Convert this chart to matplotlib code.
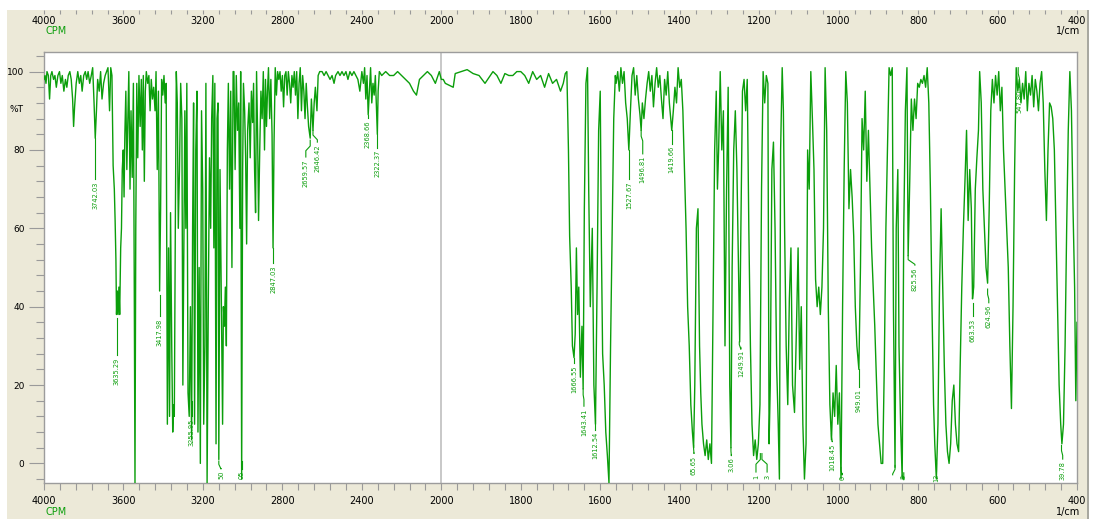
import numpy as np
import matplotlib
matplotlib.use("Agg")
import matplotlib.pyplot as plt
from matplotlib.patches import Rectangle
from matplotlib.ticker import FixedLocator, NullFormatter

GREEN = '#0b9e0b'
BEIGE = '#ece9d8'
TICK = '#9a9a9a'

# spectrum, (1/cm, %T), high to low wavenumber
seg_4000_3660 = [
	(4000, 98), (3995, 99), (3990, 97), (3985, 100), (3978, 99), (3972, 93), (3966, 99), (3960, 100),
	(3952, 98), (3945, 99), (3938, 96), (3930, 99), (3922, 100), (3915, 97), (3908, 99), (3900, 95),
	(3892, 98), (3885, 96), (3878, 99), (3870, 100), (3863, 98), (3856, 93), (3851, 86), (3846, 91),
	(3838, 97), (3830, 100), (3822, 97), (3815, 99), (3808, 95), (3800, 99), (3792, 100), (3785, 98),
	(3778, 100), (3770, 97), (3762, 99), (3755, 101), (3748, 92), (3742, 83), (3736, 90), (3730, 98),
	(3722, 95), (3715, 100), (3708, 93), (3700, 97), (3692, 99), (3685, 100), (3678, 101), (3670, 90),
	(3664, 101),
]
seg_3660_3045 = [
	(3658, 99), (3652, 76), (3646, 70), (3642, 62), (3638, 52), (3635, 38), (3631, 44), (3627, 38),
	(3623, 45), (3619, 38), (3614, 55), (3610, 60), (3606, 75), (3601, 80), (3597, 68), (3593, 84),
	(3588, 95), (3583, 75), (3578, 88), (3573, 100), (3567, 70), (3562, 90), (3556, 73), (3550, 97),
	(3546, 50), (3542, -5), (3538, 60), (3533, 97), (3528, 78), (3522, 99), (3516, 86), (3510, 98),
	(3505, 80), (3500, 99), (3495, 72), (3490, 95), (3485, 100), (3478, 97), (3472, 99), (3466, 90),
	(3460, 98), (3454, 93), (3448, 96), (3441, 90), (3436, 100), (3430, 75), (3424, 95), (3418, 44),
	(3413, 65), (3408, 98), (3402, 94), (3396, 99), (3390, 92), (3385, 97), (3379, 10), (3373, 55),
	(3368, 12), (3363, 64), (3357, 30), (3352, 8), (3348, 15), (3344, 12), (3339, 60), (3334, 100),
	(3329, 92), (3324, 60), (3318, 75), (3312, 97), (3306, 88), (3301, 20), (3296, 55), (3291, 90),
	(3286, 60), (3281, 97), (3275, 18), (3269, 12), (3263, 40), (3257, 6), (3252, 60), (3247, 92),
	(3242, 10), (3236, 80), (3230, 95), (3225, 8), (3219, 50), (3213, 0), (3207, 90), (3201, 70),
	(3196, 10), (3190, 30), (3185, 97), (3179, -5), (3173, 40), (3167, 78), (3161, 60), (3156, 88),
	(3150, 99), (3145, 55), (3140, 97), (3134, 5), (3129, 88), (3124, 92), (3120, 1), (3114, 75),
	(3107, 40), (3101, 10), (3097, 40), (3092, 35), (3087, 45), (3082, 30), (3077, 80), (3072, 97),
	(3066, 70), (3060, 95), (3054, 50), (3048, 100),
]
seg_3045_2300 = [
	(3044, 100), (3038, 75), (3032, 99), (3026, 85), (3020, 92), (3014, 60), (3010, 100), (3005, -4),
	(3000, 75), (2996, 97), (2990, 90), (2985, 78), (2980, 56), (2975, 85), (2968, 92), (2962, 78),
	(2956, 95), (2950, 87), (2945, 97), (2940, 75), (2935, 64), (2930, 100), (2925, 85), (2920, 62),
	(2914, 80), (2908, 95), (2902, 88), (2896, 100), (2890, 80), (2885, 98), (2880, 86), (2875, 95),
	(2870, 101), (2864, 88), (2858, 98), (2852, 84), (2847, 55), (2842, 82), (2836, 101), (2830, 94),
	(2824, 100), (2818, 98), (2812, 100), (2806, 95), (2800, 99), (2794, 91), (2788, 99), (2782, 100),
	(2776, 94), (2770, 100), (2764, 97), (2758, 92), (2752, 99), (2746, 96), (2740, 100), (2734, 94),
	(2728, 100), (2722, 88), (2716, 97), (2710, 101), (2704, 90), (2698, 99), (2692, 95), (2686, 88),
	(2680, 97), (2674, 91), (2668, 86), (2660, 83), (2654, 93), (2646, 85), (2640, 92), (2634, 96),
	(2626, 90), (2620, 99), (2612, 100), (2600, 100), (2590, 99), (2580, 100), (2570, 99), (2560, 98),
	(2550, 99), (2540, 97), (2532, 99), (2520, 100), (2510, 99), (2500, 100), (2490, 99), (2480, 100),
	(2470, 98), (2460, 100), (2450, 99), (2440, 100), (2430, 99), (2420, 98), (2410, 95), (2400, 100),
	(2392, 97), (2386, 101), (2380, 93), (2374, 99), (2368, 89), (2362, 95), (2356, 101), (2350, 92),
	(2344, 97), (2338, 94), (2332, 99), (2326, 90), (2322, 84), (2318, 95), (2312, 100),
]
seg_2300_1690 = [
	(2300, 99), (2280, 100), (2260, 99), (2240, 99), (2220, 100), (2200, 99), (2180, 98), (2160, 97),
	(2140, 95), (2125, 94), (2110, 98), (2090, 99), (2070, 100), (2050, 99), (2030, 97), (2010, 100),
	(2000, 98), (1995, 98), (1990, 97), (1980, 96.5), (1970, 96), (1965, 99.5), (1950, 100),
	(1935, 100.5), (1920, 99.5), (1905, 99), (1890, 97), (1880, 98.5), (1870, 100), (1860, 99),
	(1850, 97), (1840, 99.5), (1830, 99), (1820, 99), (1810, 100), (1800, 100), (1790, 99), (1780, 97),
	(1770, 100), (1760, 98), (1750, 99), (1740, 96), (1730, 99.5), (1720, 97), (1710, 98), (1700, 95),
	(1693, 97), (1688, 99.5),
]
seg_1690_1140 = [
	(1684, 100), (1680, 80), (1677, 58), (1673, 45), (1670, 30), (1666, 27), (1663, 33), (1660, 55),
	(1657, 38), (1654, 45), (1650, 22), (1646, 35), (1643, 19), (1640, 65), (1636, 97), (1632, 101),
	(1629, 70), (1625, 40), (1620, 60), (1616, 20), (1612, 10), (1608, 45), (1604, 85), (1600, 95),
	(1597, 55), (1594, 28), (1590, 20), (1586, 8), (1582, 2), (1578, -5), (1574, 30), (1570, 60),
	(1566, 88), (1562, 99), (1560, 97), (1556, 100), (1552, 95), (1548, 101), (1544, 97), (1540, 100),
	(1536, 92), (1532, 88), (1528, 80), (1524, 90), (1520, 99), (1516, 101), (1512, 94), (1508, 99),
	(1504, 93), (1500, 89), (1497, 85), (1494, 92), (1490, 88), (1486, 93), (1482, 97), (1478, 100),
	(1474, 95), (1470, 99), (1466, 91), (1462, 97), (1458, 101), (1454, 96), (1450, 99), (1446, 93),
	(1442, 88), (1438, 98), (1434, 94), (1430, 100), (1426, 92), (1420, 85), (1416, 90), (1412, 96),
	(1408, 92), (1404, 101), (1400, 96), (1396, 98), (1392, 90), (1388, 75), (1384, 60), (1380, 40),
	(1376, 30), (1372, 15), (1368, 8), (1365, 4), (1362, 20), (1358, 60), (1354, 65), (1350, 30),
	(1347, 18), (1344, 10), (1340, 5), (1336, 2), (1332, 6), (1328, 1), (1324, 5), (1320, 0),
	(1316, 40), (1312, 80), (1308, 95), (1305, 70), (1302, 80), (1298, 100), (1294, 80), (1290, 90),
	(1286, 30), (1282, 70), (1278, 96), (1274, 20), (1271, 4), (1268, 50), (1264, 80), (1260, 90),
	(1256, 75), (1252, 50), (1249, 31), (1246, 60), (1242, 95), (1238, 98), (1234, 90), (1230, 98),
	(1226, 60), (1222, 30), (1218, 10), (1214, 2), (1210, 6), (1206, 1), (1202, 5), (1198, 15),
	(1194, 70), (1190, 100), (1186, 92), (1182, 99), (1178, 97), (1175, 5), (1172, 20), (1168, 75),
	(1164, 82), (1160, 60), (1156, 25), (1152, 10), (1149, -4), (1146, 80), (1142, 101),
]
seg_1140_750 = [
	(1139, 90), (1136, 60), (1132, 30), (1128, 15), (1124, 42), (1120, 55), (1116, 20), (1111, 13),
	(1106, 35), (1102, 55), (1098, 24), (1094, 40), (1090, 10), (1086, -4), (1082, 5), (1078, 80),
	(1074, 70), (1070, 100), (1066, 88), (1062, 75), (1058, 47), (1054, 40), (1050, 45), (1046, 38),
	(1042, 45), (1038, 60), (1034, 101), (1030, 85), (1026, 40), (1022, 15), (1018, 6), (1014, 18),
	(1010, 12), (1006, 25), (1002, 10), (998, 18), (994, -4), (990, 40), (986, 75), (982, 100),
	(978, 92), (974, 65), (970, 75), (966, 68), (962, 58), (958, 40), (954, 30), (949, 24),
	(945, 50), (941, 88), (937, 80), (933, 95), (929, 72), (925, 85), (921, 70), (917, 55),
	(913, 45), (909, 35), (905, 22), (901, 10), (897, 5), (893, 0), (889, 0), (885, 25),
	(881, 60), (877, 80), (873, 101), (869, 99), (865, 101), (862, 40), (858, -1), (855, 60),
	(851, 75), (848, 30), (844, 10), (840, -4), (836, 60), (832, 90), (828, 101), (825, 53),
	(821, 72), (817, 93), (813, 85), (809, 93), (805, 88), (801, 97), (797, 96), (793, 98),
	(789, 97), (785, 99), (781, 96), (777, 101), (773, 92), (769, 70), (765, 40), (761, 15),
	(758, 5), (754, -4),
]
seg_750_400 = [
	(750, 10), (746, 45), (742, 65), (738, 45), (734, 25), (730, 10), (726, 3), (722, 0),
	(718, 5), (714, 16), (710, 20), (706, 10), (702, 5), (698, 3), (694, 25), (690, 45),
	(686, 60), (682, 72), (678, 85), (674, 62), (670, 75), (666, 65), (663, 42), (660, 45),
	(656, 70), (652, 78), (648, 85), (645, 100), (641, 92), (637, 70), (633, 60), (629, 50),
	(625, 46), (621, 65), (617, 90), (613, 98), (609, 92), (605, 99), (601, 94), (597, 100),
	(593, 90), (589, 96), (585, 80), (581, 70), (577, 60), (573, 50), (569, 30), (565, 14),
	(561, 40), (557, 75), (553, 101), (549, 95), (545, 98), (541, 92), (537, 97), (533, 93),
	(529, 100), (525, 90), (521, 97), (517, 94), (513, 99), (509, 91), (505, 98), (501, 95),
	(497, 90), (493, 97), (489, 100), (485, 92), (481, 75), (477, 62), (473, 80), (469, 92),
	(465, 91), (461, 88), (457, 80), (453, 60), (449, 40), (445, 20), (441, 10), (438, 5),
	(434, 10), (430, 30), (426, 60), (422, 85), (418, 100), (414, 90), (410, 65), (406, 45),
	(403, 16), (400, 36),
]

# peak labels as they show in the picture (the ones at the bottom are cut off there)
# text, peak position, text position, leader start (%T), text top (%T)
peak_text = ['3742.03', '3635.29', '3417.98', '3255.95', '50', '05', '2847.03',
	'2659.57', '2646.42', '2368.66', '2322.37', '1666.55', '1643.41', '1612.54', '1527.67',
	'1496.81', '1419.66', '65.65', '3.06', '1249.91', '1', '3', '1018.45',
	'0', '949.01', '', '3', '825.56', '12', '663.53', '624.96', '547.80',
	'39.78']
peak_wn = [3742, 3635, 3418, 3256, 3120, 3005, 2847,
	2660, 2646, 2369, 2322, 1666, 1643, 1612, 1528,
	1497, 1420, 1365, 1271, 1250, 1197, 1193, 1018,
	994, 949, 858, 840, 825, 754, 663, 625, 548,
	439]
text_wn = [3742, 3635, 3418, 3256, 3109, 3005, 2847,
	2682, 2624, 2369, 2322, 1666, 1641, 1612, 1528,
	1493, 1420, 1364, 1270, 1246, 1208, 1180, 1016,
	991, 949, 864, 836, 808, 754, 663, 622, 545,
	436]
lead_from = [83, 37, 43, 16, 0.6, 0.5, 55,
	82.5, 85, 89, 84, 27, 19, 11, 80,
	85, 85, 4.6, 4, 31, 2.5, 2.5, 7.6,
	-1, 24, -0.5, -3, 53, 0, 41, 44.5, 101,
	4.6]
text_top = [72, 27, 37, 11.5, -1.9, -1.9, 50.5,
	77.6, 81.4, 87.5, 80, 25, 14, 8, 72,
	78.4, 81, 2.0, 1.5, 29, -2.8, -2.8, 5,
	-3.2, 19, -3.5, -3.0, 50, -2.5, 37, 40.4, 95.4,
	0.5]

major_ticks = [4000, 3600, 3200, 2800, 2400, 2000, 1800, 1600, 1400, 1200, 1000, 800, 600, 400]
y_major = [0, 20, 40, 60, 80, 100]


def fwd(w):
	# 4000-2000 drawn at half the scale of 2000-400
	w = np.asarray(w, dtype=float)
	return np.where(w <= 2000, w, 2000 + (w - 2000) / 2)


def inv(u):
	u = np.asarray(u, dtype=float)
	return np.where(u <= 2000, u, 2000 + (u - 2000) * 2)


spectrum = (seg_4000_3660 + seg_3660_3045 + seg_3045_2300 + seg_2300_1690
	+ seg_1690_1140 + seg_1140_750 + seg_750_400)
wn = np.array([p[0] for p in spectrum], dtype=float)
tr = np.array([p[1] for p in spectrum], dtype=float)

minor_ticks = sorted(set(np.arange(2000, 4001, 80).tolist() + np.arange(400, 2001, 40).tolist()))

W, H = 1099, 519
fig = plt.figure(figsize=(W / 100, H / 100), dpi=100, facecolor='white')
fig.add_artist(Rectangle((7 / W, 0), (1087 - 7) / W, (H - 10) / H, transform=fig.transFigure,
	facecolor=BEIGE, edgecolor='none', zorder=-10))
fig.add_artist(Rectangle((1087 / W, 0), 2 / W, (H - 10) / H, transform=fig.transFigure,
	facecolor='#a8a8a0', edgecolor='none', zorder=-9))

left, right, top, bottom = 44, 1077, 52, 483
ax = fig.add_axes([left / W, (H - bottom) / H, (right - left) / W, (bottom - top) / H])
ax.set_facecolor('white')
ax.set_xscale('function', functions=(fwd, inv))
ax.set_xlim(4000, 400)
ax.set_ylim(-5, 105)

ax.axvline(2000, color='#c4c4c4', lw=1.3, zorder=1)
ax.plot(wn, tr, color=GREEN, lw=1.0, zorder=3)

for i in range(len(peak_text)):
	px, tx = peak_wn[i], text_wn[i]
	y0, y1 = lead_from[i], text_top[i]
	if px == tx:
		xs, ys = [px, px], [y0, y1 + 0.6]
	else:
		mid = y0 - min(1.5, (y0 - y1) / 3)
		xs = [px, px, tx, tx]
		ys = [y0, mid, mid - 1.2, y1 + 0.6]
	ax.plot(xs, ys, color=GREEN, lw=0.8, zorder=3)
	if peak_text[i]:
		ax.text(tx, y1, peak_text[i], rotation=90, ha='center', va='top', fontsize=4.8,
			color=GREEN, clip_on=True, zorder=4)

for s in ax.spines.values():
	s.set_color('#9c9c9c')
	s.set_linewidth(1.0)

ax.xaxis.set_major_locator(FixedLocator(major_ticks))
ax.xaxis.set_minor_locator(FixedLocator(minor_ticks))
ax.xaxis.set_major_formatter(plt.FuncFormatter(lambda v, p: '%d' % round(v)))
ax.xaxis.set_minor_formatter(NullFormatter())
ax.tick_params(axis='x', which='both', direction='out', length=5, width=0.8, color=TICK,
	labelsize=7, pad=4)

ax.yaxis.set_major_locator(FixedLocator(y_major))
ax.yaxis.set_minor_locator(FixedLocator([v for v in range(-4, 105, 4) if v % 20 != 0]))
ax.yaxis.set_minor_formatter(NullFormatter())
ax.tick_params(axis='y', which='major', direction='out', length=11, width=0.8, color=TICK,
	labelsize=6.5, pad=3)
ax.tick_params(axis='y', which='minor', direction='out', length=6, width=0.8, color=TICK)

# top scale sits at the upper edge of the panel
axt = fig.add_axes([left / W, 1 - 10 / H, (right - left) / W, 0.0001])
axt.set_xscale('function', functions=(fwd, inv))
axt.set_xlim(4000, 400)
axt.set_facecolor('none')
for s in axt.spines.values():
	s.set_visible(False)
axt.yaxis.set_visible(False)
axt.xaxis.set_major_locator(FixedLocator(major_ticks))
axt.xaxis.set_minor_locator(FixedLocator(minor_ticks))
axt.xaxis.set_major_formatter(plt.FuncFormatter(lambda v, p: '%d' % round(v)))
axt.xaxis.set_minor_formatter(NullFormatter())
axt.tick_params(axis='x', which='both', direction='out', length=3, width=0.8, color=TICK,
	labelsize=7, pad=1.5)

fig.text(45 / W, 1 - 31 / H, 'CPM', color=GREEN, fontsize=7, ha='left', va='center')
fig.text(45 / W, 1 - 512 / H, 'CPM', color=GREEN, fontsize=7, ha='left', va='center')
fig.text(1080 / W, 1 - 31 / H, '1/cm', fontsize=7, ha='right', va='center')
fig.text(1080 / W, 1 - 512 / H, '1/cm', fontsize=7, ha='right', va='center')
fig.text(24 / W, 1 - 110 / H, '%T', fontsize=6.5, ha='right', va='center')

fig.savefig('out.png', dpi=100, facecolor='white')
